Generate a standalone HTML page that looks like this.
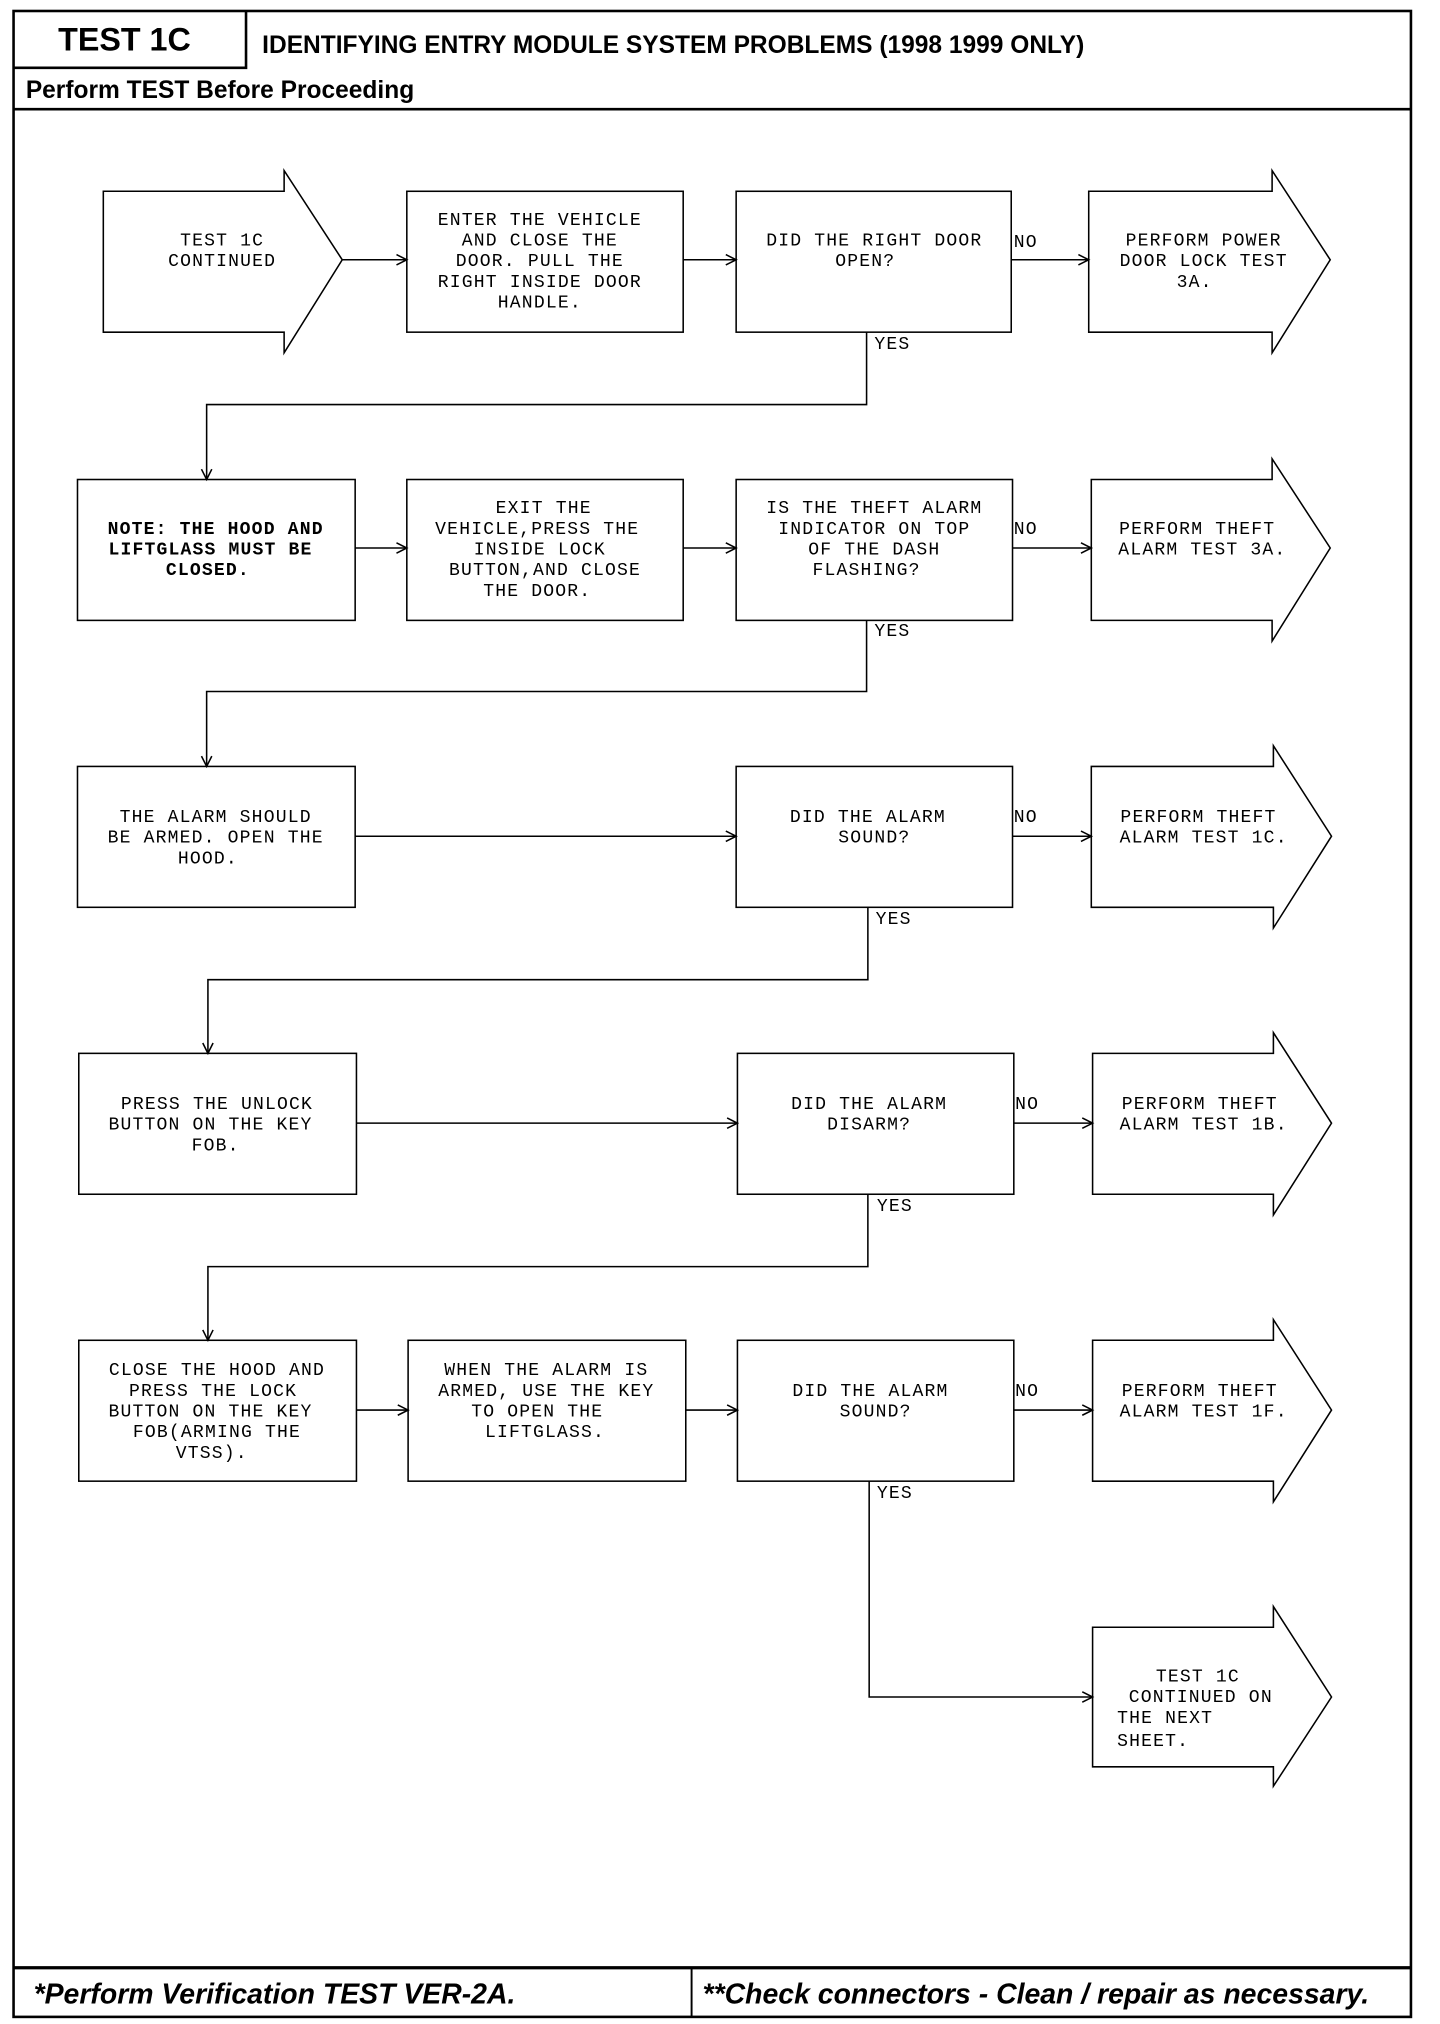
<!DOCTYPE html>
<html><head><meta charset="utf-8"><style>
html,body{margin:0;padding:0;background:#fff;}
svg{display:block;}
.m{font-family:"Liberation Mono",monospace;font-size:14px;letter-spacing:0.9px;fill:#000;}
.b{font-family:"Liberation Sans",sans-serif;font-weight:bold;fill:#000;}
</style></head><body>
<svg width="1440" height="2024" viewBox="0 0 1115 1566" preserveAspectRatio="none" xmlns="http://www.w3.org/2000/svg">
<g fill="none" stroke="#000">
<rect x="10.5" y="8.5" width="1082" height="1552" stroke-width="2"/>
<line x1="10" y1="84.5" x2="1093" y2="84.5" stroke-width="2"/>
<polyline points="10,52.5 190.5,52.5 190.5,8" stroke-width="2"/>
<line x1="10" y1="1522.5" x2="1093" y2="1522.5" stroke-width="2.5"/>
<line x1="535.5" y1="1522" x2="535.5" y2="1561" stroke-width="1.5"/>
</g>
<text class="b" x="45" y="39" font-size="25">TEST 1C</text>
<text class="b" x="203" y="41" font-size="19">IDENTIFYING ENTRY MODULE SYSTEM PROBLEMS (1998 1999 ONLY)</text>
<text class="b" x="20" y="76" font-size="19">Perform TEST Before Proceeding</text>
<text class="b" x="26" y="1550" font-size="22" font-style="italic">*Perform Verification TEST VER-2A.</text>
<text class="b" x="544" y="1550" font-size="22" font-style="italic">**Check connectors - Clean / repair as necessary.</text>

<g fill="none" stroke="#000" stroke-width="1.2">
<path d="M80,148 H220 V132 L265,201 L220,273 V257 H80 Z"/>
<rect x="315" y="148" width="214" height="109"/>
<rect x="570" y="148" width="213" height="109"/>
<path d="M843,148 H985 V132 L1030,201 L985,273 V257 H843 Z"/>
<rect x="60" y="371" width="215" height="109"/>
<rect x="315" y="371" width="214" height="109"/>
<rect x="570" y="371" width="214" height="109"/>
<path d="M845,371 H985 V355 L1030,424 L985,496 V480 H845 Z"/>
<rect x="60" y="593" width="215" height="109"/>
<rect x="570" y="593" width="214" height="109"/>
<path d="M845,593 H986 V577 L1031,647 L986,718 V702 H845 Z"/>
<rect x="61" y="815" width="215" height="109"/>
<rect x="571" y="815" width="214" height="109"/>
<path d="M846,815 H986 V799 L1031,869 L986,940 V924 H846 Z"/>
<rect x="61" y="1037" width="215" height="109"/>
<rect x="316" y="1037" width="215" height="109"/>
<rect x="571" y="1037" width="214" height="109"/>
<path d="M846,1037 H986 V1021 L1031,1091 L986,1162 V1146 H846 Z"/>
<path d="M846,1259 H986 V1243 L1031,1313 L986,1382 V1367 H846 Z"/>

<path d="M265,201 H315 M529,201 H570 M783,201 H843"/>
<path d="M671,257 V313 H160 V371"/>
<path d="M275,424 H315 M529,424 H570 M784,424 H845"/>
<path d="M671,480 V535 H160 V593"/>
<path d="M275,647 H570 M784,647 H845"/>
<path d="M672,702 V758 H161 V815"/>
<path d="M276,869 H571 M785,869 H846"/>
<path d="M672,924 V980 H161 V1037"/>
<path d="M276,1091 H316 M531,1091 H571 M785,1091 H846"/>
<path d="M673,1146 V1313 H846"/>
<path d="M307,197 L315,201 L307,205 M562,197 L570,201 L562,205 M835,197 L843,201 L835,205"/>
<path d="M156,363 L160,371 L164,363"/>
<path d="M307,420 L315,424 L307,428 M562,420 L570,424 L562,428 M837,420 L845,424 L837,428"/>
<path d="M156,585 L160,593 L164,585"/>
<path d="M562,643 L570,647 L562,651 M837,643 L845,647 L837,651"/>
<path d="M157,807 L161,815 L165,807"/>
<path d="M563,865 L571,869 L563,873 M838,865 L846,869 L838,873"/>
<path d="M157,1029 L161,1037 L165,1029"/>
<path d="M308,1087 L316,1091 L308,1095 M563,1087 L571,1091 L563,1095 M838,1087 L846,1091 L838,1095"/>
<path d="M838,1309 L846,1313 L838,1317"/>
</g>

<g class="m" text-anchor="middle">
<text x="172" y="190">TEST 1C</text><text x="172" y="206">CONTINUED</text>
<text x="418" y="174">ENTER THE VEHICLE</text><text x="418" y="190">AND CLOSE THE</text><text x="418" y="206">DOOR. PULL THE</text><text x="418" y="222">RIGHT INSIDE DOOR</text><text x="418" y="238">HANDLE.</text>
<text x="677" y="190">DID THE RIGHT DOOR</text><text x="670" y="206">OPEN?</text>
<text x="932" y="190">PERFORM POWER</text><text x="932" y="206">DOOR LOCK TEST</text><text x="925" y="222">3A.</text>
<text x="167" y="413" font-weight="bold">NOTE: THE HOOD AND</text><text x="163" y="429" font-weight="bold">LIFTGLASS MUST BE</text><text x="161" y="445" font-weight="bold">CLOSED.</text>
<text x="421" y="397">EXIT THE</text><text x="416" y="413">VEHICLE,PRESS THE</text><text x="418" y="429">INSIDE LOCK</text><text x="422" y="445">BUTTON,AND CLOSE</text><text x="416" y="461">THE DOOR.</text>
<text x="677" y="397">IS THE THEFT ALARM</text><text x="677" y="413">INDICATOR ON TOP</text><text x="677" y="429">OF THE DASH</text><text x="671" y="445">FLASHING?</text>
<text x="927" y="413">PERFORM THEFT</text><text x="931" y="429">ALARM TEST 3A.</text>
<text x="167" y="636">THE ALARM SHOULD</text><text x="167" y="652">BE ARMED. OPEN THE</text><text x="161" y="668">HOOD.</text>
<text x="672" y="636">DID THE ALARM</text><text x="677" y="652">SOUND?</text>
<text x="928" y="636">PERFORM THEFT</text><text x="932" y="652">ALARM TEST 1C.</text>
<text x="168" y="858">PRESS THE UNLOCK</text><text x="163" y="874">BUTTON ON THE KEY</text><text x="167" y="890">FOB.</text>
<text x="673" y="858">DID THE ALARM</text><text x="673" y="874">DISARM?</text>
<text x="929" y="858">PERFORM THEFT</text><text x="932" y="874">ALARM TEST 1B.</text>
<text x="168" y="1064">CLOSE THE HOOD AND</text><text x="165" y="1080">PRESS THE LOCK</text><text x="163" y="1096">BUTTON ON THE KEY</text><text x="168" y="1112">FOB(ARMING THE</text><text x="164" y="1128">VTSS).</text>
<text x="423" y="1064">WHEN THE ALARM IS</text><text x="423" y="1080">ARMED, USE THE KEY</text><text x="416" y="1096">TO OPEN THE</text><text x="422" y="1112">LIFTGLASS.</text>
<text x="674" y="1080">DID THE ALARM</text><text x="678" y="1096">SOUND?</text>
<text x="929" y="1080">PERFORM THEFT</text><text x="932" y="1096">ALARM TEST 1F.</text>
</g>
<g class="m">
<text x="895" y="1301">TEST 1C</text><text x="874" y="1317">CONTINUED ON</text><text x="865" y="1333">THE NEXT</text><text x="865" y="1351">SHEET.</text>
<text x="785" y="191">NO</text><text x="785" y="413">NO</text><text x="785" y="636">NO</text><text x="786" y="858">NO</text><text x="786" y="1080">NO</text>
<text x="677" y="270">YES</text><text x="677" y="492">YES</text><text x="678" y="715">YES</text><text x="679" y="937">YES</text><text x="679" y="1159">YES</text>
</g>
</svg>
</body></html>
